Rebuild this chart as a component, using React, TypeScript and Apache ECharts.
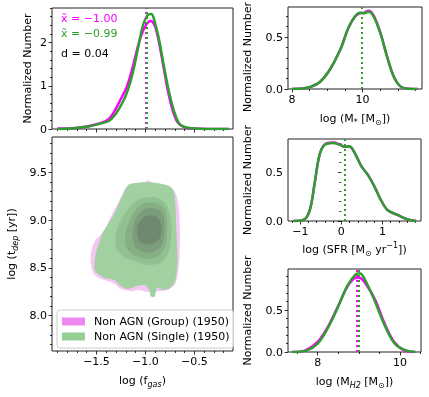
import React, { useEffect, useRef } from 'react';
import * as echarts from 'echarts';

const PINK = '#ff00ff';
const GREEN = '#2ca02c';
const FONT = 'DejaVu Sans';

const seriesNames = ['Non AGN (Group) (1950)', 'Non AGN (Single) (1950)'];
const legendColors = ['#ee88ee', '#96cf96'];

// ---------- top-left: KDE of log f_gas ----------
const fgasGroupX = [-1.90, -1.75, -1.6, -1.47, -1.38, -1.32, -1.25, -1.19, -1.14, -1.09, -1.04, -0.99, -0.95, -0.91, -0.87, -0.82, -0.77, -0.72, -0.67, -0.6, -0.5, -0.38, -0.15];
const fgasGroupY = [0.01, 0.02, 0.06, 0.13, 0.22, 0.40, 0.70, 0.98, 1.35, 1.80, 2.18, 2.42, 2.50, 2.42, 2.10, 1.50, 0.88, 0.42, 0.15, 0.04, 0.01, 0.0, 0.0];
const fgasSingleX = [-1.90, -1.75, -1.6, -1.47, -1.37, -1.30, -1.23, -1.18, -1.13, -1.08, -1.03, -0.98, -0.94, -0.91, -0.86, -0.81, -0.755, -0.70, -0.64, -0.52, -0.38, -0.15];
const fgasSingleY = [0.0, 0.02, 0.05, 0.12, 0.19, 0.36, 0.63, 0.9, 1.29, 1.82, 2.36, 2.63, 2.66, 2.52, 2.06, 1.44, 0.82, 0.36, 0.09, 0.015, 0.0, 0.0];
const fgasMedianGroup = -1.0;
const fgasMedianSingle = -0.99;
const fgasDistance = 0.04;

// ---------- main: contours of log t_dep vs log f_gas ----------
const groupContours: number[][][] = [
  [[-1.184, 9.356], [-1.010, 9.397], [-0.969, 9.418], [-0.939, 9.387], [-0.755, 9.356], [-0.684, 9.262], [-0.653, 9.052], [-0.648, 8.738], [-0.658, 8.529], [-0.690, 8.341], [-0.760, 8.275], [-0.857, 8.257], [-0.959, 8.246], [-1.061, 8.265], [-1.163, 8.257], [-1.245, 8.278], [-1.327, 8.340], [-1.460, 8.385], [-1.530, 8.440], [-1.560, 8.561], [-1.550, 8.686], [-1.510, 8.791], [-1.460, 8.843], [-1.410, 8.916], [-1.347, 9.052], [-1.265, 9.209]],
  [[-1.08, 9.23], [-0.90, 9.25], [-0.80, 9.17], [-0.75, 9.06], [-0.73, 8.88], [-0.76, 8.67], [-0.84, 8.55], [-0.97, 8.51], [-1.10, 8.55], [-1.23, 8.60], [-1.31, 8.70], [-1.32, 8.85], [-1.26, 9.01], [-1.17, 9.14]],
  [[-1.02, 9.19], [-0.87, 9.19], [-0.79, 9.11], [-0.77, 8.91], [-0.80, 8.71], [-0.89, 8.60], [-1.01, 8.58], [-1.13, 8.62], [-1.22, 8.72], [-1.22, 8.88], [-1.15, 9.04], [-1.09, 9.13]],
  [[-0.98, 9.14], [-0.86, 9.13], [-0.81, 9.05], [-0.80, 8.87], [-0.84, 8.72], [-0.92, 8.65], [-1.03, 8.65], [-1.11, 8.71], [-1.15, 8.84], [-1.12, 8.99], [-1.05, 9.10]],
  [[-0.97, 9.07], [-0.89, 9.06], [-0.84, 8.99], [-0.83, 8.87], [-0.87, 8.78], [-0.95, 8.74], [-1.04, 8.75], [-1.09, 8.83], [-1.09, 8.95], [-1.04, 9.03]],
];
const singleContours: number[][][] = [
  [[-1.163, 9.377], [-0.959, 9.397], [-0.776, 9.366], [-0.714, 9.314], [-0.694, 9.157], [-0.684, 8.895], [-0.673, 8.582], [-0.694, 8.372], [-0.735, 8.299], [-0.806, 8.268], [-0.878, 8.289], [-0.908, 8.195], [-0.949, 8.205], [-0.959, 8.268], [-1.010, 8.320], [-1.092, 8.310], [-1.184, 8.278], [-1.265, 8.320], [-1.316, 8.372], [-1.418, 8.393], [-1.469, 8.425], [-1.520, 8.477], [-1.510, 8.634], [-1.469, 8.770], [-1.439, 8.864], [-1.367, 8.979], [-1.316, 9.073], [-1.265, 9.188], [-1.214, 9.293]],
  [[-1.061, 9.220], [-0.908, 9.241], [-0.806, 9.188], [-0.755, 9.084], [-0.735, 8.895], [-0.755, 8.686], [-0.827, 8.561], [-0.959, 8.529], [-1.082, 8.561], [-1.214, 8.613], [-1.296, 8.707], [-1.306, 8.843], [-1.245, 9.000], [-1.163, 9.136]],
  [[-1.010, 9.178], [-0.878, 9.178], [-0.796, 9.105], [-0.776, 8.916], [-0.796, 8.718], [-0.878, 8.613], [-1.000, 8.592], [-1.122, 8.634], [-1.204, 8.728], [-1.204, 8.874], [-1.143, 9.031], [-1.082, 9.126]],
  [[-0.980, 9.126], [-0.867, 9.115], [-0.816, 9.042], [-0.806, 8.874], [-0.837, 8.728], [-0.918, 8.665], [-1.020, 8.665], [-1.102, 8.718], [-1.133, 8.843], [-1.112, 8.979], [-1.051, 9.084]],
  [[-0.990, 9.042], [-0.898, 9.042], [-0.847, 8.979], [-0.837, 8.874], [-0.867, 8.791], [-0.949, 8.749], [-1.041, 8.759], [-1.082, 8.833], [-1.082, 8.937], [-1.041, 9.010]],
];
const groupContourColors = ['#f3c6f3', '#e0b0e0', '#c8a0c8', '#b090b0', '#988098'];
const singleContourColors = ['#9ad09a', '#8fc08f', '#85ae85', '#7b9b7b', '#6f876f'];

// ---------- right 1: log M* ----------
const mstarX = [8.0, 8.3, 8.52, 8.8, 9.08, 9.37, 9.6, 9.79, 9.92, 10.05, 10.17, 10.31, 10.5, 10.69, 10.88, 11.07, 11.3, 11.55];
const mstarGroupY = [0, 0.005, 0.02, 0.07, 0.19, 0.38, 0.59, 0.70, 0.73, 0.735, 0.755, 0.71, 0.545, 0.315, 0.12, 0.025, 0.003, 0];
const mstarSingleY = [0, 0.005, 0.02, 0.07, 0.19, 0.38, 0.59, 0.70, 0.735, 0.73, 0.745, 0.70, 0.54, 0.315, 0.12, 0.025, 0.003, 0];
const mstarMedianGroup = 9.97;
const mstarMedianSingle = 9.97;

// ---------- right 2: log SFR ----------
const sfrX = [-1.17, -0.93, -0.77, -0.65, -0.53, -0.405, -0.2, -0.04, 0.08, 0.2, 0.32, 0.49, 0.65, 0.81, 0.97, 1.13, 1.38, 1.62, 1.82];
const sfrGroupY = [0, 0.01, 0.11, 0.39, 0.68, 0.785, 0.805, 0.785, 0.76, 0.76, 0.70, 0.56, 0.47, 0.35, 0.21, 0.11, 0.06, 0.015, 0];
const sfrSingleY = [0, 0.01, 0.11, 0.39, 0.68, 0.78, 0.80, 0.78, 0.76, 0.765, 0.70, 0.56, 0.47, 0.35, 0.21, 0.11, 0.06, 0.015, 0];
const sfrMedianGroup = 0.08;
const sfrMedianSingle = 0.08;

// ---------- right 3: log M_H2 ----------
const mh2GroupX = [7.38, 7.7, 8.0, 8.25, 8.5, 8.75, 8.95, 9.05, 9.2, 9.4, 9.6, 9.85, 10.1, 10.37];
const mh2GroupY = [0, 0.02, 0.12, 0.30, 0.55, 0.80, 0.89, 0.88, 0.79, 0.62, 0.37, 0.125, 0.02, 0];
const mh2SingleX = [7.38, 7.74, 8.0, 8.23, 8.47, 8.71, 8.91, 9.02, 9.12, 9.36, 9.6, 9.84, 10.08, 10.37];
const mh2SingleY = [0, 0.02, 0.10, 0.27, 0.51, 0.78, 0.92, 0.94, 0.89, 0.64, 0.35, 0.12, 0.03, 0];
const mh2MedianGroup = 8.95;
const mh2MedianSingle = 8.99;

// ---------- tick positions ----------
const fgasTicks = [-1.5, -1.0, -0.5];
const tdepTicks = [8.0, 8.5, 9.0, 9.5];
const kdeTicksTL = [0, 1, 2];
const kdeTicksR = [0.0, 0.5];
const mstarTicks = [8, 10];
const sfrTicks = [-1, 0, 1];
const mh2Ticks = [8, 10];

const zip = (xs: number[], ys: number[]) => xs.map((x, i) => [x, ys[i]]);
const minus = (s: string) => s.replace('-', '\u2212');
const f0 = (v: number) => minus(v.toFixed(0));
const f1 = (v: number) => minus(v.toFixed(1));
const f2 = (v: number) => minus(v.toFixed(2));

function minorTicks(min: number, max: number, step: number, major: number[]) {
  const out: number[] = [];
  const start = Math.ceil(min / step - 1e-9);
  for (let k = start; k * step <= max + 1e-9; k++) {
    const v = +(k * step).toFixed(6);
    if (!major.some((m) => Math.abs(m - v) < 1e-6)) out.push(v);
  }
  return out;
}

const richStyles = {
  n: { fontSize: 11, fontFamily: FONT, color: '#000', lineHeight: 16, verticalAlign: 'middle' },
  s: { fontSize: 8, fontFamily: FONT, color: '#000', lineHeight: 9, verticalAlign: 'bottom' },
  si: { fontSize: 8, fontFamily: FONT, fontStyle: 'italic', color: '#000', lineHeight: 9, verticalAlign: 'bottom' },
  p: { fontSize: 8, fontFamily: FONT, color: '#000', lineHeight: 9, verticalAlign: 'top' },
};

function mkAxes(dim: 'x' | 'y', grid: number, min: number, max: number, major: number[], minorStep: number,
  fmt: (v: number) => string, showLabel: boolean, name: string, nameGap: number, namePadding: number[] = [0, 0, 0, 0]) {
  const base: any = {
    type: 'value', gridIndex: grid, min, max, position: dim === 'x' ? 'bottom' : 'left', offset: 0,
    axisLine: { show: false }, splitLine: { show: false }, minorTick: { show: false },
  };
  const tickStyle = { color: '#000', width: 0.8 };
  const majorAxis = {
    ...base,
    axisTick: { show: true, inside: false, length: 3.5, customValues: major, lineStyle: tickStyle },
    axisLabel: { show: showLabel, customValues: major, formatter: fmt, fontSize: 11, color: '#000', fontFamily: FONT, margin: 5 },
    name, nameLocation: 'middle', nameGap, nameRotate: dim === 'y' ? 90 : 0,
    nameTextStyle: { fontSize: 11, color: '#000', fontFamily: FONT, rich: richStyles, padding: namePadding },
  };
  const minorAxis = {
    ...base,
    axisTick: { show: true, inside: false, length: 2, customValues: minorTicks(min, max, minorStep, major), lineStyle: tickStyle },
    axisLabel: { show: false },
  };
  return [majorAxis, minorAxis];
}

const fgasRange = [-1.955, -0.105];
const tdepRange = [7.63, 9.87];

function lineSeries(grid: number, data: number[][], color: string, median: number, z: number) {
  return {
    type: 'line', xAxisIndex: 2 * grid, yAxisIndex: 2 * grid, data, showSymbol: false, smooth: 0.35,
    lineStyle: { color, width: 2.5 }, itemStyle: { color }, silent: true, z,
    markLine: {
      silent: true, symbol: ['none', 'none'], label: { show: false },
      lineStyle: { color, width: 2, type: [2, 3] }, data: [{ xAxis: median }],
    },
  };
}

function contourSeries(name: string, levels: number[][][], colors: string[], legendColor: string, opacity: number, z: number) {
  return {
    type: 'custom', name, xAxisIndex: 2, yAxisIndex: 2, coordinateSystem: 'cartesian2d', silent: true, z,
    itemStyle: { color: legendColor },
    data: levels.map((lv, i) => [lv[0][0], lv[0][1], i]),
    encode: { x: 0, y: 1 },
    renderItem: (params: any, api: any) => {
      const idx = api.value(2);
      const pts = levels[idx].map((p) => api.coord(p));
      return { type: 'polygon', shape: { points: pts, smooth: 0.25 }, style: { fill: colors[idx], opacity } };
    },
  };
}

export default function App() {
  const ref = useRef<HTMLDivElement>(null);
  useEffect(() => {
    if (!ref.current) return;
    const chart = echarts.init(ref.current, undefined, { renderer: 'svg' });
    const gridStyle = { show: true, borderColor: '#222', borderWidth: 1, backgroundColor: 'transparent', containLabel: false, outerBoundsMode: 'none' };
    const grids = [
      { left: 52, top: 8, width: 181, height: 121 },
      { left: 52, top: 137, width: 181, height: 214 },
      { left: 288, top: 7, width: 134, height: 82 },
      { left: 288, top: 139, width: 133, height: 82 },
      { left: 288, top: 269, width: 133, height: 83 },
    ].map((g) => ({ ...gridStyle, ...g }));

    const xAxes = [
      ...mkAxes('x', 0, fgasRange[0], fgasRange[1], fgasTicks, 0.1, f1, false, '', 0),
      ...mkAxes('x', 1, fgasRange[0], fgasRange[1], fgasTicks, 0.1, f1, true, '{n|log (f}{si|gas}{n|)}', 21),
      ...mkAxes('x', 2, 7.89, 11.68, mstarTicks, 0.5, f0, true, '{n|log (M}{s|*}{n| [M}{s|\u2299}{n|])}', 21),
      ...mkAxes('x', 3, -1.3, 1.94, sfrTicks, 0.2, f0, true, '{n|log (SFR [M}{s|\u2299}{n| yr}{p|\u22121}{n|])}', 20),
      ...mkAxes('x', 4, 7.28, 10.51, mh2Ticks, 0.5, f0, true, '{n|log (M}{si|H2}{n| [M}{s|\u2299}{n|])}', 21),
    ];
    const yAxes = [
      ...mkAxes('y', 0, 0, 2.8, kdeTicksTL, 0.2, f0, true, 'Normalized Number', 19),
      ...mkAxes('y', 1, tdepRange[0], tdepRange[1], tdepTicks, 0.1, f1, true, '{n|log (t}{si|dep}{n| [yr])}', 33),
      ...mkAxes('y', 2, 0, 0.79, kdeTicksR, 0.1, f1, true, 'Normalized Number', 35, [0, 18, 0, 0]),
      ...mkAxes('y', 3, 0, 0.84, kdeTicksR, 0.1, f1, true, 'Normalized Number', 35),
      ...mkAxes('y', 4, 0, 0.99, kdeTicksR, 0.1, f1, true, 'Normalized Number', 35),
    ];

    const series: any[] = [
      lineSeries(0, zip(fgasGroupX, fgasGroupY), PINK, fgasMedianGroup, 3),
      lineSeries(0, zip(fgasSingleX, fgasSingleY), GREEN, fgasMedianSingle, 4),
      contourSeries(seriesNames[0], groupContours, groupContourColors, legendColors[0], 1, 2),
      contourSeries(seriesNames[1], singleContours, singleContourColors, legendColors[1], 0.92, 3),
      lineSeries(2, zip(mstarX, mstarGroupY), PINK, mstarMedianGroup, 3),
      lineSeries(2, zip(mstarX, mstarSingleY), GREEN, mstarMedianSingle, 4),
      lineSeries(3, zip(sfrX, sfrGroupY), PINK, sfrMedianGroup, 3),
      lineSeries(3, zip(sfrX, sfrSingleY), GREEN, sfrMedianSingle, 4),
      lineSeries(4, zip(mh2GroupX, mh2GroupY), PINK, mh2MedianGroup, 3),
      lineSeries(4, zip(mh2SingleX, mh2SingleY), GREEN, mh2MedianSingle, 4),
    ];

    chart.setOption({
      animation: false,
      textStyle: { fontFamily: FONT },
      grid: grids,
      xAxis: xAxes,
      yAxis: yAxes,
      series,
      legend: {
        data: seriesNames.map((n) => ({ name: n, icon: 'rect' })),
        orient: 'vertical', left: 57, top: 310, itemWidth: 23, itemHeight: 8, itemGap: 4,
        padding: [6, 4, 6, 5], backgroundColor: 'rgba(255,255,255,0.8)', borderColor: '#ccc', borderWidth: 1, borderRadius: 3,
        textStyle: { fontSize: 11, color: '#000', fontFamily: FONT, padding: [0, 0, 0, 4] },
        selectedMode: false, z: 10,
      },
      graphic: [
        { type: 'text', x: 61, y: 18, style: { text: `x\u0303 = ${f2(fgasMedianGroup)}`, fill: PINK, fontSize: 11, fontFamily: FONT, verticalAlign: 'middle' } },
        { type: 'text', x: 61, y: 33, style: { text: `x\u0303 = ${f2(fgasMedianSingle)}`, fill: GREEN, fontSize: 11, fontFamily: FONT, verticalAlign: 'middle' } },
        { type: 'text', x: 61, y: 53, style: { text: `d = ${fgasDistance.toFixed(2)}`, fill: '#000', fontSize: 11, fontFamily: FONT, verticalAlign: 'middle' } },
      ],
    });
    return () => chart.dispose();
  }, []);
  return <div ref={ref} style={{ position: 'fixed', left: 0, top: 0, width: 429, height: 397 }} />;
}
